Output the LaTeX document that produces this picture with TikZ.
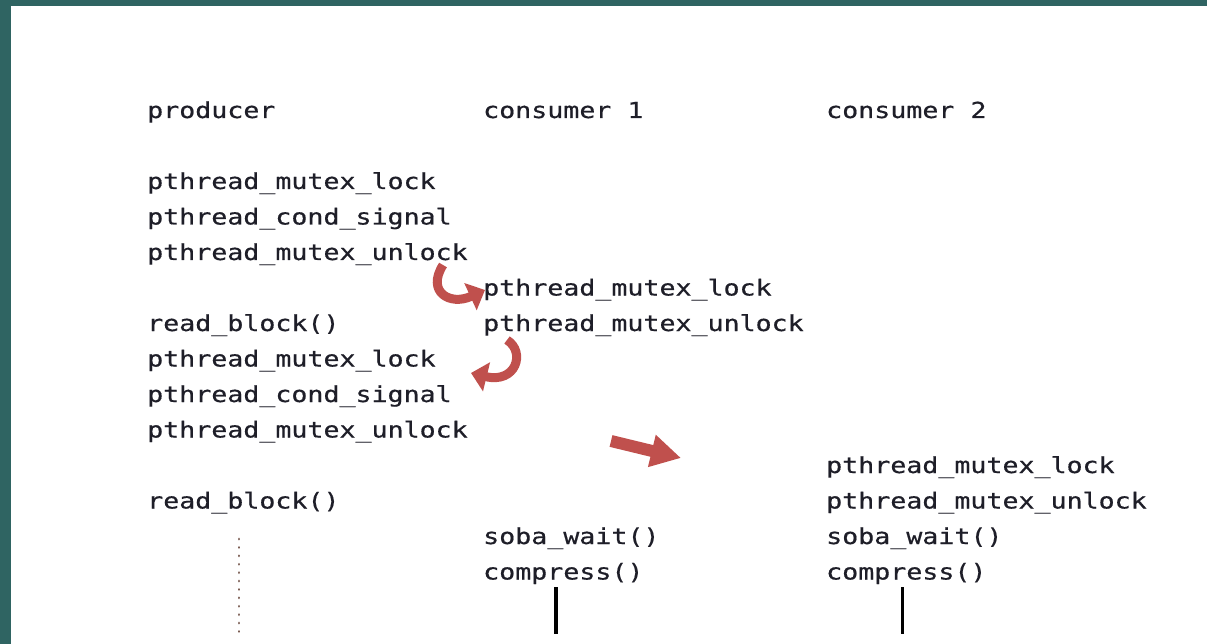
\documentclass[tikz,border=0pt]{standalone}
\usepackage{fontspec}
\usetikzlibrary{arrows.meta}
\newfontfamily\codefont[FakeStretch=1.21,FakeBold=0.5]{DejaVu Sans Mono}
\definecolor{frame}{HTML}{2F6462}
\definecolor{flow}{HTML}{C0504D}
\definecolor{ink}{HTML}{1E1E28}
\definecolor{dots}{HTML}{7A5C52}

\begin{document}
\begin{tikzpicture}[x=1pt,y=-1pt,
	code/.style={anchor=base west, inner sep=0pt, text=ink, font=\codefont\fontsize{22}{26}\selectfont},
	handoff/.style={draw=flow, line width=9pt, -{Triangle[width=29pt,length=16pt]}},
	jump/.style={draw=flow, line width=12pt, -{Triangle[width=31pt,length=30pt]}}]
					\useasboundingbox (0,0) rectangle (1207,644);
					\fill[white] (0,0) rectangle (1207,644);
					\fill[frame] (0,0) rectangle (11,644);
					\fill[frame] (0,0) rectangle (1207,6);

					% column titles
					\node (prod) [code] at (147,118) {producer};
					\node (cons1) [code] at (483,118) {consumer 1};
					\node (cons2) [code] at (826,118) {consumer 2};

					% producer
					\node (pl1) [code] at (147,189) {pthread\_mutex\_lock};
					\node (ps1) [code] at (147,224.5) {pthread\_cond\_signal};
					\node (pu1) [code] at (147,260) {pthread\_mutex\_unlock};
					\node (pr1) [code] at (147,331) {read\_block()};
					\node (pl2) [code] at (147,366.5) {pthread\_mutex\_lock};
					\node (ps2) [code] at (147,402) {pthread\_cond\_signal};
					\node (pu2) [code] at (147,437.5) {pthread\_mutex\_unlock};
					\node (pr2) [code] at (147,508.5) {read\_block()};

					% consumer 1
					\node (c1l) [code] at (483,295.5) {pthread\_mutex\_lock};
					\node (c1u) [code] at (483,331) {pthread\_mutex\_unlock};
					\node (c1w) [code] at (483,544) {soba\_wait()};
					\node (c1c) [code] at (483,579.5) {compress()};

					% consumer 2
					\node (c2l) [code] at (826,473) {pthread\_mutex\_lock};
					\node (c2u) [code] at (826,508.5) {pthread\_mutex\_unlock};
					\node (c2w) [code] at (826,544) {soba\_wait()};
					\node (c2c) [code] at (826,579.5) {compress()};

					% ends of the hand-off arrows
					\coordinate (a1) at (443,265);
					\coordinate (b1) at (485,290);
					\coordinate (a2) at (507,340);
					\coordinate (b2) at (471,373);
					\coordinate (a3) at (611,441);
					\coordinate (b3) at (681,458);

					\draw[handoff] (a1) .. controls (426,292) and (450,306) .. (b1);
					\draw[handoff] (a2) .. controls (526,352) and (516,384) .. (b2);
					\draw[jump] (a3) -- (b3);

					% threads keep running
					\coordinate (pt) at (239,539);
					\coordinate (pb) at (239,634);
					\draw[dots, line width=2.8pt, line cap=round, dash pattern=on 0.1pt off 8.3pt] (pt) -- (pb);
					\coordinate (c1t) at (556,587);
					\coordinate (c1b) at (556,634);
					\draw[black, line width=3.5pt] (c1t) -- (c1b);
					\coordinate (c2t) at (902.5,587);
					\coordinate (c2b) at (902.5,634);
					\draw[black, line width=3.5pt] (c2t) -- (c2b);
\end{tikzpicture}
\end{document}
